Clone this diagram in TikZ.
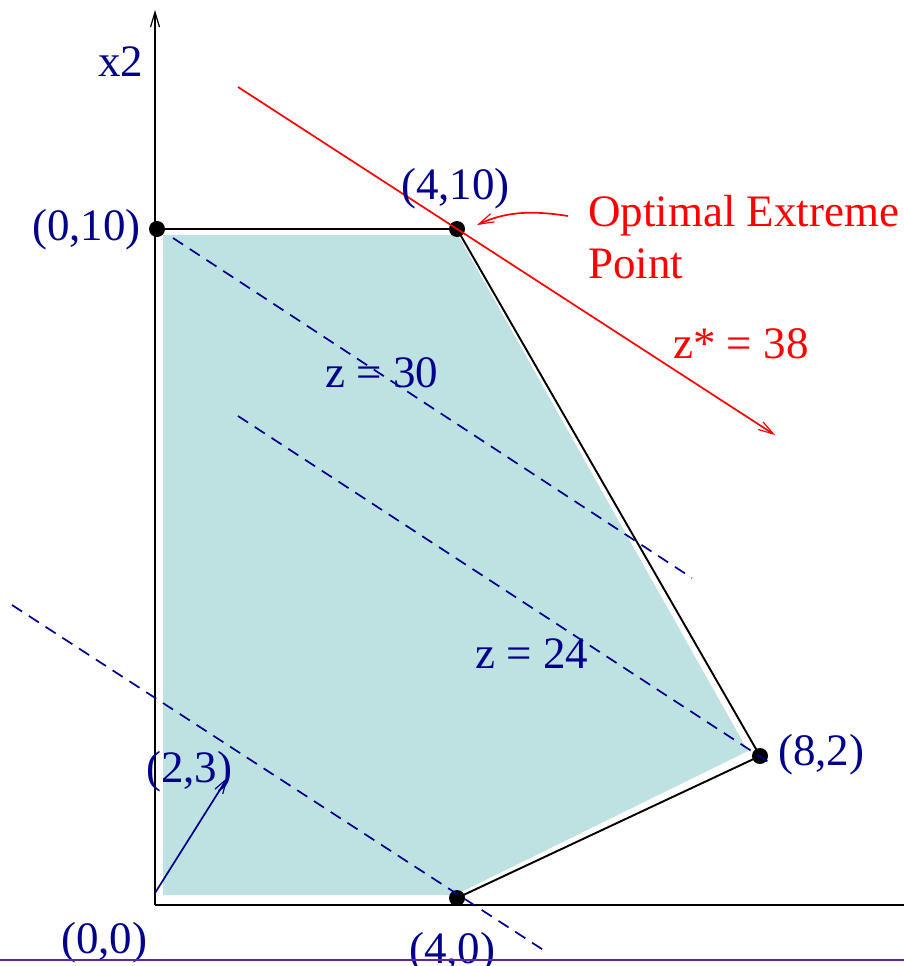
\documentclass[tikz,border=0pt]{standalone}
\usepackage{fontspec}
\setmainfont{Liberation Serif}
\usetikzlibrary{arrows.meta}
\definecolor{navy}{RGB}{0,0,140}
\definecolor{fillteal}{RGB}{190,226,226}
\definecolor{purpline}{RGB}{90,40,160}
\tikzset{
  lbl/.style={inner sep=0pt, anchor=base west, font=\fontsize{45}{52}\selectfont},
  navylbl/.style={lbl, text=navy},
  redlbl/.style={lbl, text=red},
  dot/.style={circle, fill=black, inner sep=0pt, minimum size=16pt},
  edge/.style={black, line width=1.9pt},
  isoline/.style={navy, line width=1.7pt, dash pattern=on 12pt off 8pt},
  barb/.style={-{Straight Barb[length=15pt,width=9pt,line width=1.2pt]}},
}
\begin{document}
\begin{tikzpicture}[x=1pt,y=-1pt]
\useasboundingbox (0,0) rectangle (904,966);
% feasible region
\fill[fillteal] (163,235) -- (458,235) -- (748,751) -- (455,895) -- (163,895) -- cycle;
% axes
\coordinate (O) at (155,905);
\coordinate (ytop) at (155,10);
\coordinate (xend) at (904,905);
\draw[black, line width=1.6pt, barb] (O) -- (ytop);
\draw[edge] (O) -- (xend);
% vertices
\node[dot] (v010) at (157,229) {};
\node[dot] (v410) at (457,229) {};
\node[dot] (v82) at (760,756) {};
\node[dot] (v40) at (457,898) {};
\draw[edge] (O |- v010.center) -- (v410.center) -- (v82.center) -- (v40.center);
% iso-profit lines
\coordinate (a1) at (173,238); \coordinate (a2) at (692,578);
\coordinate (b1) at (238,416); \coordinate (b2) at (773,765);
\coordinate (c1) at (12,605);  \coordinate (c2) at (548,953);
\draw[isoline] (a1) -- (a2);
\draw[isoline] (b1) -- (b2);
\draw[isoline] (c1) -- (c2);
% optimal line
\coordinate (r1) at (238,87); \coordinate (r2) at (775,435);
\draw[red, line width=1.7pt, barb] (r1) -- (r2);
% gradient vector
\coordinate (g1) at (155,893);
\coordinate (g2) at (228,777);
\draw[navy, line width=1.7pt, barb] (g1) -- (g2);
% labels
\node[navylbl] (lx2) at (98,76) {x2};
\node[navylbl] (l010) at (32,240) {(0,10)};
\node[navylbl] (l410) at (401,199) {(4,10)};
\node[redlbl] (lopt) at (588,226) {Optimal Extreme};
\node[redlbl] (lpt) at (588,278) {Point};
\node[redlbl] (lz38) at (673,358) {z* = 38};
\node[navylbl] (lz30) at (325,387) {z = 30};
\node[navylbl] (lz24) at (475,668) {z = 24};
\node[navylbl] (l82) at (778,765) {(8,2)};
\node[navylbl] (l23) at (146,782) {(2,3)};
\node[navylbl] (l00) at (61,953) {(0,0)};
\node[navylbl] (l40) at (409,963) {(4,0)};
% callout arrow
\coordinate (cs) at (568,216);
\coordinate (ce) at (477,225);
\draw[red, line width=1.7pt, barb] (cs) .. controls (530,210) and (505,212) .. (ce);
% bottom rule
\coordinate (bl) at (0,960); \coordinate (br) at (904,960);
\draw[purpline, line width=1.8pt] (bl) -- (br);
\end{tikzpicture}
\end{document}
